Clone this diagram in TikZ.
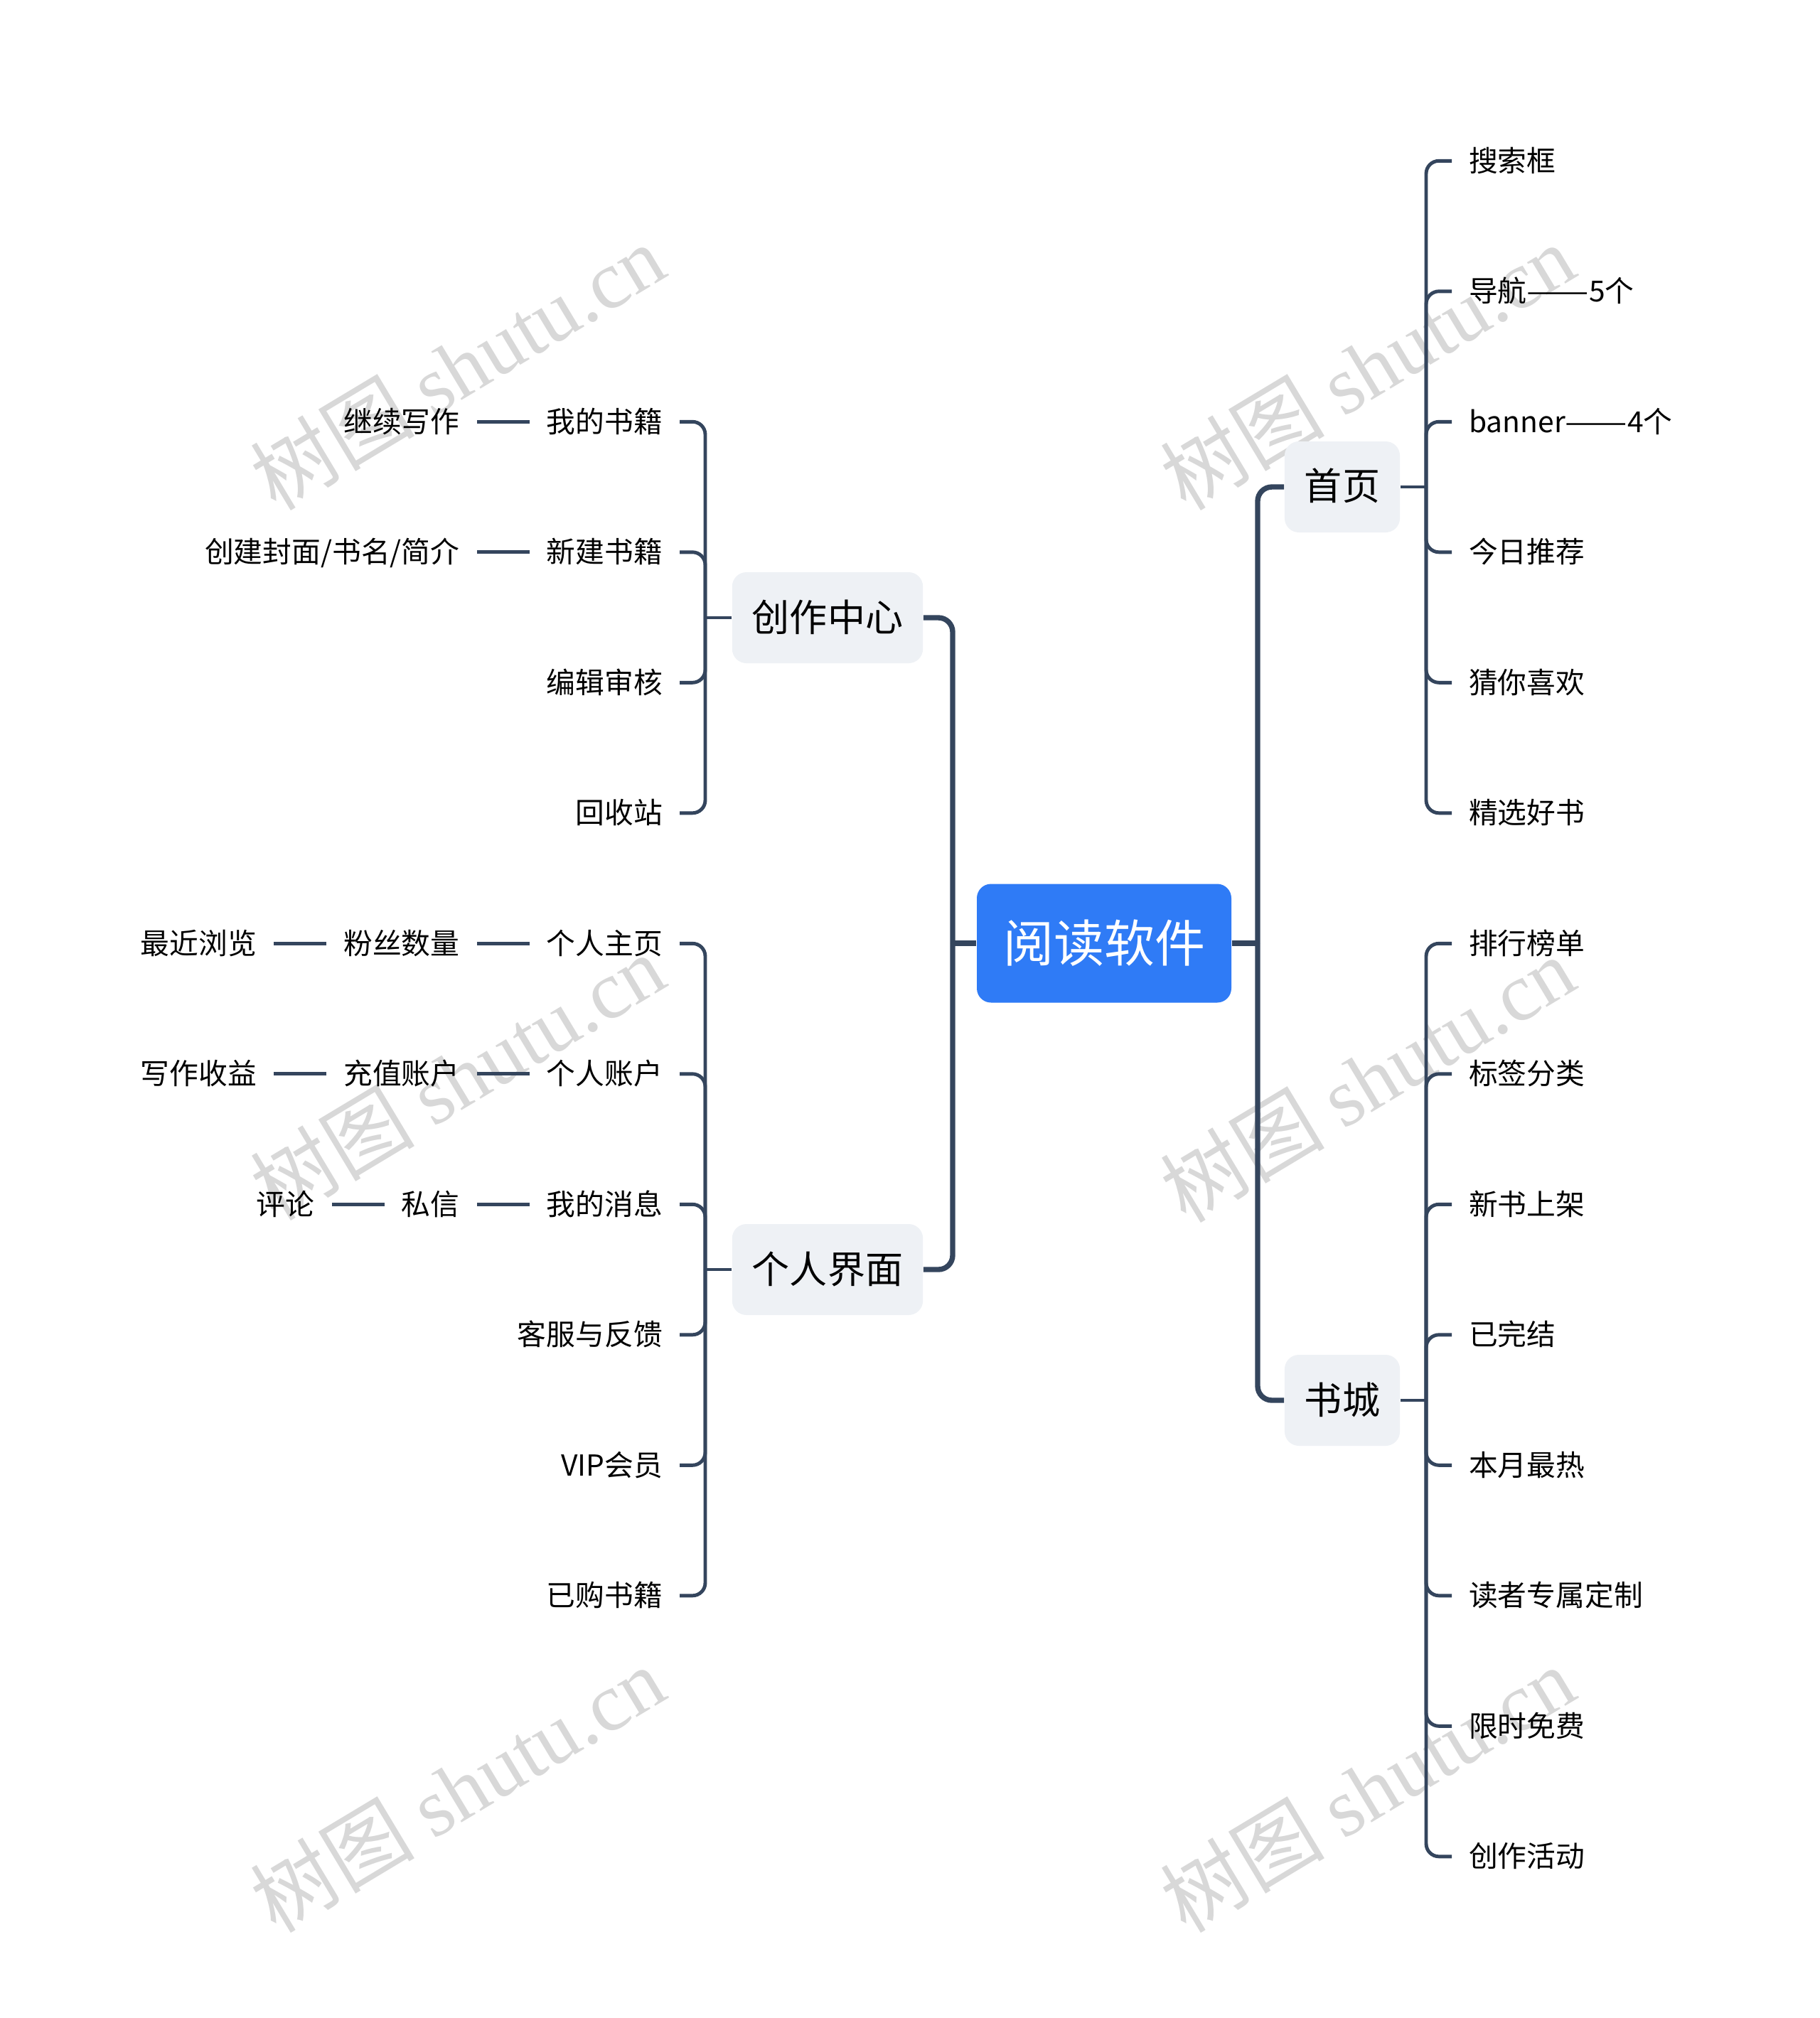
\documentclass[tikz,border=0pt]{standalone}
\usepackage{fontspec}
\setmainfont{Noto Sans CJK SC}
\newfontfamily\wmserif{Liberation Serif}
\usepackage{tikz}
\usetikzlibrary{positioning}
\definecolor{linec}{HTML}{34455D}
\definecolor{rootc}{HTML}{2F7BF6}
\definecolor{topicc}{HTML}{EEF1F5}
\definecolor{wmc}{HTML}{D8D8D8}
\newcommand{\longdash}{\scalebox{1.28}[1]{——}}

\begin{document}
\begin{tikzpicture}[
  root/.style={fill=rootc, text=white, rounded corners=0.2cm, minimum width=3.58cm, minimum height=1.67cm, font=\fontsize{20.2}{24}\selectfont},
  topic/.style={fill=topicc, rounded corners=0.2cm, inner xsep=0.28cm, minimum height=1.28cm, text height=1.08em, text depth=0em, font=\fontsize{15.1}{18}\selectfont},
  leaf/.style={inner xsep=0.235cm, inner ysep=0.08cm, text height=0.86em, text depth=0em, font=\fontsize{11.6}{14}\selectfont},
  trunk/.style={draw=linec, line width=2.1pt, rounded corners=0.2cm},
  branch/.style={draw=linec, line width=1.4pt, rounded corners=0.18cm},
  link/.style={draw=linec, line width=1.4pt},
  wm/.style={text=wmc, rotate=31, font=\fontsize{33}{40}\selectfont}
]
\useasboundingbox (0,0) rectangle (25.6,-28.39);

% watermarks
\node[wm] (wm1) at (6.43,-5.16) {树图 {\wmserif shutu.cn}};
\node[wm] (wm2) at (6.43,-15.15) {树图 {\wmserif shutu.cn}};
\node[wm] (wm3) at (6.43,-25.17) {树图 {\wmserif shutu.cn}};
\node[wm] (wm4) at (19.23,-5.16) {树图 {\wmserif shutu.cn}};
\node[wm] (wm5) at (19.23,-15.18) {树图 {\wmserif shutu.cn}};
\node[wm] (wm6) at (19.23,-25.17) {树图 {\wmserif shutu.cn}};

% centre and main topics
\node[root] (rt) at (15.53,-13.27) {阅读软件};
\node[topic] (cz) at (11.64,-8.69) {创作中心};
\node[topic] (gr) at (11.64,-17.86) {个人界面};
\node[topic] (sy) at (18.88,-6.85) {首页};
\node[topic] (sc) at (18.88,-19.70) {书城};

\coordinate (jl) at (13.40,-13.27);
\coordinate (jr) at (17.69,-13.27);
\draw[trunk] (rt.west) -- (jl);
\draw[trunk] (rt.east) -- (jr);
\draw[trunk] (jl) |- (cz.east);
\draw[trunk] (jl) |- (gr.east);
\draw[trunk] (jr) |- (sy.west);
\draw[trunk] (jr) |- (sc.west);

% 首页
\coordinate (jsy) at (20.06,-6.85);
\draw[branch] (sy.east) -- (jsy);
\node[leaf, anchor=west] (sy1) at (20.42,-2.263) {搜索框};
\node[leaf, anchor=west] (sy2) at (20.42,-4.098) {导航\longdash5个};
\node[leaf, anchor=west] (sy3) at (20.42,-5.933) {banner\longdash4个};
\node[leaf, anchor=west] (sy4) at (20.42,-7.768) {今日推荐};
\node[leaf, anchor=west] (sy5) at (20.42,-9.603) {猜你喜欢};
\node[leaf, anchor=west] (sy6) at (20.42,-11.438) {精选好书};
\draw[branch] (jsy) |- (sy1.west);
\draw[branch] (jsy) |- (sy2.west);
\draw[branch] (jsy) |- (sy3.west);
\draw[branch] (jsy) |- (sy4.west);
\draw[branch] (jsy) |- (sy5.west);
\draw[branch] (jsy) |- (sy6.west);

% 书城
\coordinate (jsc) at (20.06,-19.70);
\draw[branch] (sc.east) -- (jsc);
\node[leaf, anchor=west] (sc1) at (20.42,-13.273) {排行榜单};
\node[leaf, anchor=west] (sc2) at (20.42,-15.108) {标签分类};
\node[leaf, anchor=west] (sc3) at (20.42,-16.943) {新书上架};
\node[leaf, anchor=west] (sc4) at (20.42,-18.778) {已完结};
\node[leaf, anchor=west] (sc5) at (20.42,-20.613) {本月最热};
\node[leaf, anchor=west] (sc6) at (20.42,-22.448) {读者专属定制};
\node[leaf, anchor=west] (sc7) at (20.42,-24.283) {限时免费};
\node[leaf, anchor=west] (sc8) at (20.42,-26.118) {创作活动};
\draw[branch] (jsc) |- (sc1.west);
\draw[branch] (jsc) |- (sc2.west);
\draw[branch] (jsc) |- (sc3.west);
\draw[branch] (jsc) |- (sc4.west);
\draw[branch] (jsc) |- (sc5.west);
\draw[branch] (jsc) |- (sc6.west);
\draw[branch] (jsc) |- (sc7.west);
\draw[branch] (jsc) |- (sc8.west);

% 创作中心
\coordinate (jcz) at (9.92,-8.69);
\draw[branch] (cz.west) -- (jcz);
\node[leaf, anchor=east] (cz1) at (9.56,-5.933) {我的书籍};
\node[leaf, anchor=east] (cz2) at (9.56,-7.768) {新建书籍};
\node[leaf, anchor=east] (cz3) at (9.56,-9.603) {编辑审核};
\node[leaf, anchor=east] (cz4) at (9.56,-11.438) {回收站};
\draw[branch] (jcz) |- (cz1.east);
\draw[branch] (jcz) |- (cz2.east);
\draw[branch] (jcz) |- (cz3.east);
\draw[branch] (jcz) |- (cz4.east);
\node[leaf, left=0.74cm of cz1] (cz1a) {继续写作};
\node[leaf, left=0.74cm of cz2] (cz2a) {创建封面/书名/简介};
\draw[link] (cz1.west) -- (cz1a.east);
\draw[link] (cz2.west) -- (cz2a.east);

% 个人界面
\coordinate (jgr) at (9.92,-17.86);
\draw[branch] (gr.west) -- (jgr);
\node[leaf, anchor=east] (gr1) at (9.56,-13.273) {个人主页};
\node[leaf, anchor=east] (gr2) at (9.56,-15.108) {个人账户};
\node[leaf, anchor=east] (gr3) at (9.56,-16.943) {我的消息};
\node[leaf, anchor=east] (gr4) at (9.56,-18.778) {客服与反馈};
\node[leaf, anchor=east] (gr5) at (9.56,-20.613) {VIP会员};
\node[leaf, anchor=east] (gr6) at (9.56,-22.448) {已购书籍};
\draw[branch] (jgr) |- (gr1.east);
\draw[branch] (jgr) |- (gr2.east);
\draw[branch] (jgr) |- (gr3.east);
\draw[branch] (jgr) |- (gr4.east);
\draw[branch] (jgr) |- (gr5.east);
\draw[branch] (jgr) |- (gr6.east);
\node[leaf, left=0.74cm of gr1] (gr1a) {粉丝数量};
\node[leaf, left=0.74cm of gr1a] (gr1b) {最近浏览};
\node[leaf, left=0.74cm of gr2] (gr2a) {充值账户};
\node[leaf, left=0.74cm of gr2a] (gr2b) {写作收益};
\node[leaf, left=0.74cm of gr3] (gr3a) {私信};
\node[leaf, left=0.74cm of gr3a] (gr3b) {评论};
\draw[link] (gr1.west) -- (gr1a.east);
\draw[link] (gr1a.west) -- (gr1b.east);
\draw[link] (gr2.west) -- (gr2a.east);
\draw[link] (gr2a.west) -- (gr2b.east);
\draw[link] (gr3.west) -- (gr3a.east);
\draw[link] (gr3a.west) -- (gr3b.east);
\end{tikzpicture}
\end{document}
